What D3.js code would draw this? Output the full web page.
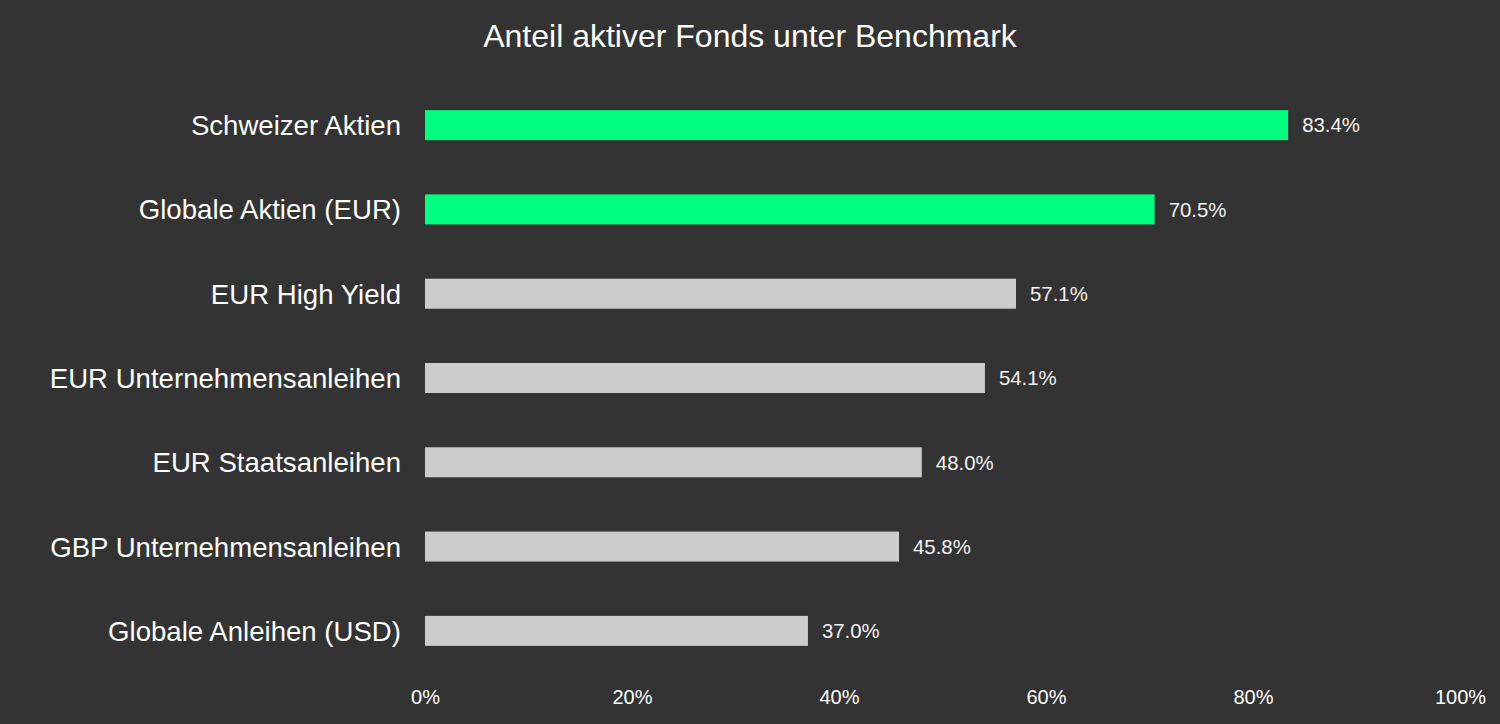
<!DOCTYPE html>
<html>
<head>
<meta charset="utf-8">
<script src="https://cdn.jsdelivr.net/npm/d3@7"></script>
<style>
  body { margin: 0; background: #333333; }
  svg { display: block; font-family: "Liberation Sans", Arial, sans-serif; }
</style>
</head>
<body>
<svg></svg>
<script>
// data
const categories = ["Schweizer Aktien", "Globale Aktien (EUR)", "EUR High Yield", "EUR Unternehmensanleihen",
                    "EUR Staatsanleihen", "GBP Unternehmensanleihen", "Globale Anleihen (USD)"];
const shares = [83.4, 70.5, 57.1, 54.1, 48.0, 45.8, 37.0];
const highlighted = ["Schweizer Aktien", "Globale Aktien (EUR)"];
const xTicks = [0, 20, 40, 60, 80, 100];

const w = 1500, h = 724;
const left = 425, right = 1460;

let svg = d3.select("svg").attr("width", w).attr("height", h);

svg.append("rect").attr("width", w).attr("height", h).attr("fill", "#333333");

// title
svg.append("text")
  .attr("x", w / 2).attr("y", 47)
  .attr("text-anchor", "middle")
  .attr("fill", "#ffffff")
  .attr("font-size", 32)
  .text("Anteil aktiver Fonds unter Benchmark");

let xScale = d3.scaleLinear().domain([0, 100]).range([left, right]);
let yScale = d3.scaleBand().domain(categories).range([83, 673])
  .paddingInner(0.644).paddingOuter(0.322);

let rows = categories.map((c, i) => ({ cat: c, val: shares[i] }));

svg.selectAll("rect.bar")
  .data(rows)
  .enter()
  .append("rect")
  .attr("class", "bar")
  .attr("x", xScale(0))
  .attr("y", d => yScale(d.cat))
  .attr("width", d => xScale(d.val) - xScale(0))
  .attr("height", yScale.bandwidth())
  .attr("fill", d => highlighted.includes(d.cat) ? "#00ff7f" : "#cccccc");

// value labels
svg.selectAll("text.val")
  .data(rows)
  .enter()
  .append("text")
  .attr("class", "val")
  .attr("x", d => xScale(d.val) + 14)
  .attr("y", d => yScale(d.cat) + yScale.bandwidth() / 2)
  .attr("dy", "0.36em")
  .attr("fill", "#f2f2f2")
  .attr("font-size", 20.4)
  .text(d => d.val.toFixed(1) + "%");

// category axis
let yAxis = d3.axisLeft(yScale).tickSize(0).tickPadding(24);
let gy = svg.append("g").attr("transform", "translate(" + left + ",0)").call(yAxis);
gy.select(".domain").remove();
gy.selectAll("text").attr("fill", "#ffffff").attr("font-size", 27.6)
  .attr("font-family", "Liberation Sans, Arial, sans-serif").attr("dy", "0.36em");

// percent axis
let xAxis = d3.axisBottom(xScale).tickValues(xTicks).tickSize(0).tickPadding(0)
  .tickFormat(d => d + "%");
let gx = svg.append("g").attr("transform", "translate(0,697)").call(xAxis);
gx.select(".domain").remove();
gx.selectAll("text").attr("fill", "#ffffff").attr("font-size", 20)
  .attr("font-family", "Liberation Sans, Arial, sans-serif").attr("dy", "0.36em");
</script>
</body>
</html>
